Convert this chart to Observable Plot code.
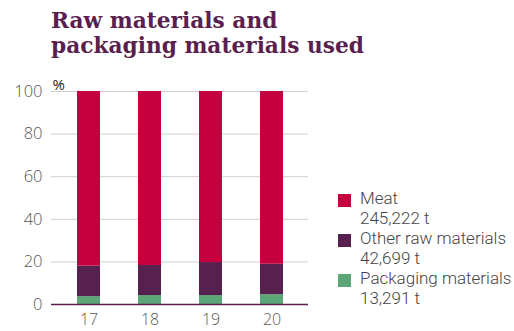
<!DOCTYPE html>
<html>
<head>
<meta charset="utf-8">
<script src="https://cdn.jsdelivr.net/npm/d3@7"></script>
<script src="https://cdn.jsdelivr.net/npm/@observablehq/plot@0.6"></script>
<style>
  html, body { margin: 0; padding: 0; background: #fff; }
  #wrap { position: relative; width: 514px; height: 331px; overflow: hidden; }
  #title { position: absolute; left: 51px; top: 8px; margin: 0;
    font-family: "DejaVu Serif", serif; font-weight: bold; font-size: 21.7px;
    line-height: 25px; color: #5a1f4f; }
  #chart { position: absolute; left: 0; top: 62px; }
  #legend { position: absolute; left: 338px; top: 187.5px;
    font-family: Roboto, sans-serif; font-weight: 300; font-size: 17px;
    line-height: 20px; color: #444; }
  .item { position: relative; padding-left: 22px; }
  .item div { height: 20px; white-space: nowrap; }
  .sw { position: absolute; left: 0; top: 6px; width: 13px; height: 13px; }
</style>
</head>
<body>
<div id="wrap">
  <h1 id="title">Raw materials and<br>packaging materials used</h1>
  <div id="chart"></div>
  <div id="legend"></div>
</div>
<script>
const years = ["17", "18", "19", "20"];
const seriesNames = ["Packaging materials", "Other raw materials", "Meat"];
const packaging = [3.7, 4.2, 4.2, 4.6];
const otherRaw = [14.3, 14.1, 15.5, 14.3];
const meat = [82.0, 81.7, 80.3, 81.1];
const totals = ["13,291 t", "42,699 t", "245,222 t"];
const colors = ["#5ba576", "#57214f", "#c4003f"];
const yTicks = [0, 20, 40, 60, 80, 100];

const rows = [];
years.forEach((y, i) => {
  rows.push({year: y, series: seriesNames[0], value: packaging[i]});
  rows.push({year: y, series: seriesNames[1], value: otherRaw[i]});
  rows.push({year: y, series: seriesNames[2], value: meat[i]});
});

const fontFam = "'Open Sans', sans-serif";

const chart = Plot.plot({
  width: 514,
  height: 269,
  marginTop: 29,
  marginBottom: 27,
  marginLeft: 51,
  marginRight: 206,
  style: {fontFamily: fontFam, fontSize: "16px", color: "#555", fontWeight: 300, background: "transparent"},
  x: {domain: years, paddingInner: 0.625, paddingOuter: 0.39, label: null},
  y: {domain: [0, 100], label: null},
  color: {domain: seriesNames, range: colors},
  marks: [
    Plot.gridY(yTicks, {stroke: "#cfcfcf", strokeOpacity: 1, strokeWidth: 1}),
    Plot.axisY(yTicks, {tickSize: 0, tickPadding: 9, label: null, fontSize: 16.5}),
    Plot.axisX({tickSize: 0, tickPadding: 9, label: null, fontSize: 16}),
    Plot.barY(rows, {x: "year", y: "value", fill: "series", order: seriesNames}),
    Plot.ruleY([0], {stroke: "#5a1f4f", strokeWidth: 1.5}),
    Plot.text(["%"], {frameAnchor: "top-left", textAnchor: "start", dx: 1, dy: -12, fontSize: 15, fontWeight: 400, fill: "#222"})
  ]
});
document.getElementById("chart").appendChild(chart);

const legend = document.getElementById("legend");
[2, 1, 0].forEach(i => {
  const d = document.createElement("div");
  d.className = "item";
  d.innerHTML = `<span class="sw" style="background:${colors[i]}"></span><div>${seriesNames[i]}</div><div>${totals[i]}</div>`;
  legend.appendChild(d);
});
</script>
</body>
</html>
